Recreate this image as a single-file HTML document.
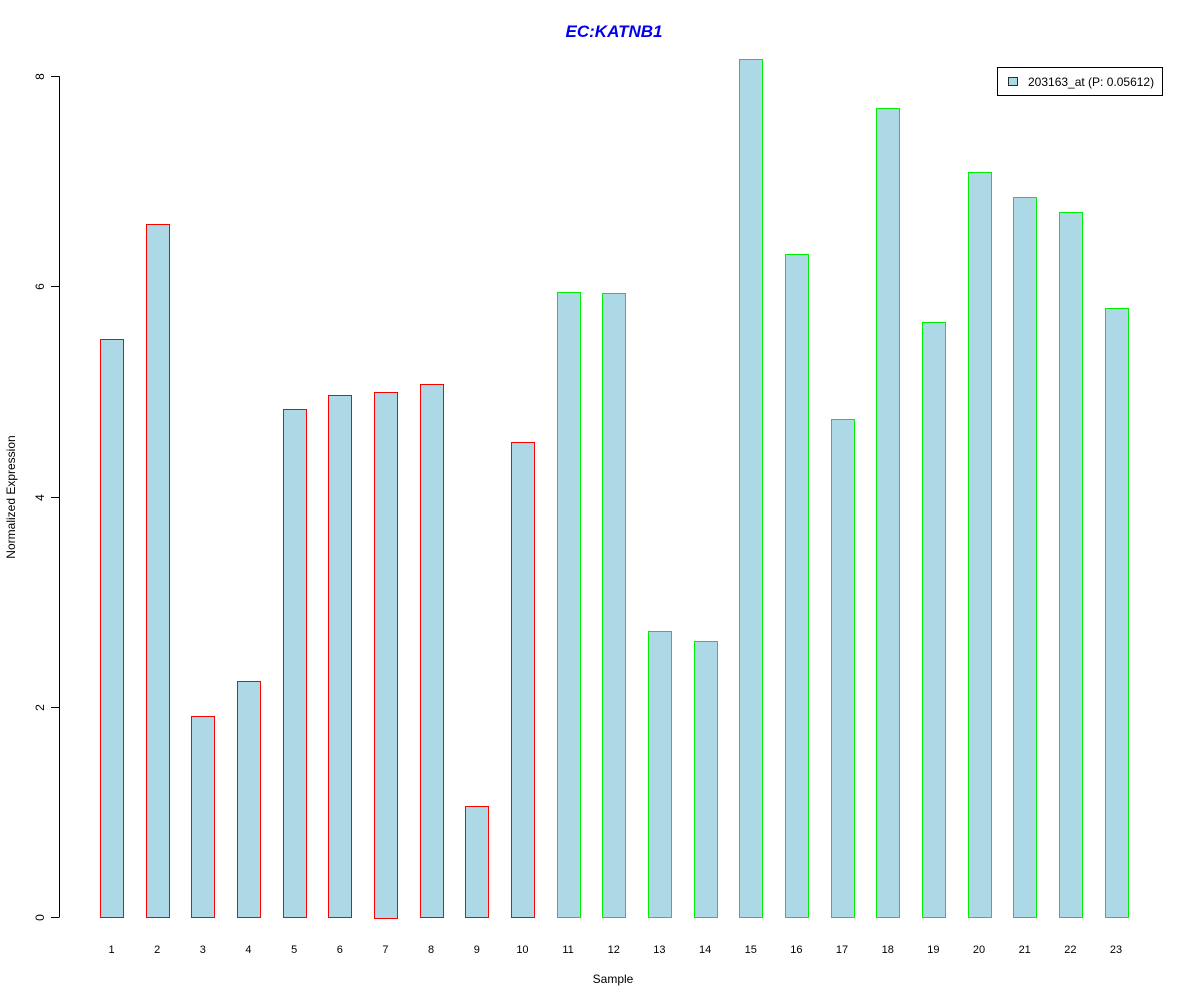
<!DOCTYPE html>
<html><head><meta charset="utf-8"><style>
body{margin:0;background:#fff;}
svg text{font-family:"Liberation Sans",Arial,sans-serif;}
</style></head><body>
<svg id="chart" width="1200" height="1000" xmlns="http://www.w3.org/2000/svg">
<rect width="1200" height="1000" fill="#fff"/>
<text x="614" y="37" text-anchor="middle" font-size="17" font-weight="bold" font-style="italic" fill="#0000ee">EC:KATNB1</text>
<g id="yaxis"></g>
<g id="bars"></g>
<g id="xlabels"></g>
<text x="613" y="983" text-anchor="middle" font-size="12">Sample</text>
<text transform="translate(15,497) rotate(-90)" text-anchor="middle" font-size="12">Normalized Expression</text>
<g>
<rect x="997.5" y="67.5" width="165" height="28" fill="#fff" stroke="#000"/>
<rect x="1008.5" y="77.5" width="9" height="8" fill="#add8e6" stroke="#000" stroke-width="0.8"/>
<text x="1028" y="86" font-size="12">203163_at (P: 0.05612)</text>
</g>
</svg>
<script>
const categories = ["1","2","3","4","5","6","7","8","9","10","11","12","13","14","15","16","17","18","19","20","21","22","23"];
const values = [5.50,6.59,1.91,2.25,4.83,4.97,5.00,5.07,1.06,4.52,5.95,5.94,2.72,2.63,8.16,6.31,4.74,7.70,5.66,7.09,6.85,6.71,5.79];
const groups = ["a","a","a","a","a","a","a","a","a","a","b","b","b","b","b","b","b","b","b","b","b","b","b"];
const yTicks = [0,2,4,6,8];
const ns = "http://www.w3.org/2000/svg";
const y0 = 917, pxPerUnit = 105.1;
function yScale(v){ return y0 - v*pxPerUnit; }
const x1 = 111.5, step = 45.66, bw = 23;
function xScale(i){ return x1 + i*step; }
function mk(tag, attrs, parent){ const e=document.createElementNS(ns,tag); for(const k in attrs) e.setAttribute(k,attrs[k]); parent.appendChild(e); return e; }
const ya = document.getElementById('yaxis');
const axl = mk('line',{x1:59.5,x2:59.5,y1:yScale(yTicks[0]),y2:yScale(yTicks[yTicks.length-1]),stroke:'#000'},ya);


yTicks.forEach(t=>{
  const y = Math.round(yScale(t))+0.5;
  const tk = mk('line',{x1:51,x2:59.5,y1:y,y2:y,stroke:'#000'},ya);
  
  
  const tx = mk('text',{transform:`translate(44,${y}) rotate(-90)`,'text-anchor':'middle','font-size':'12'},ya);
  
  
  tx.textContent = t;
});
const bg = document.getElementById('bars'), xl = document.getElementById('xlabels');
values.forEach((v,i)=>{
  const cx = xScale(i);
  const top = yScale(v);
  const r = mk('rect',{x:Math.round(cx-bw/2)+0.5,y:Math.round(top)+0.5,width:bw,height:Math.round(y0-top),fill:'#add8e6',stroke:groups[i]==='a'?'#ff0000':'#00ee00'},bg);
  
  
  const t = mk('text',{x:cx,y:953,'text-anchor':'middle','font-size':'11'},xl);
  
  
  t.textContent = categories[i];
});
</script>
</body></html>
